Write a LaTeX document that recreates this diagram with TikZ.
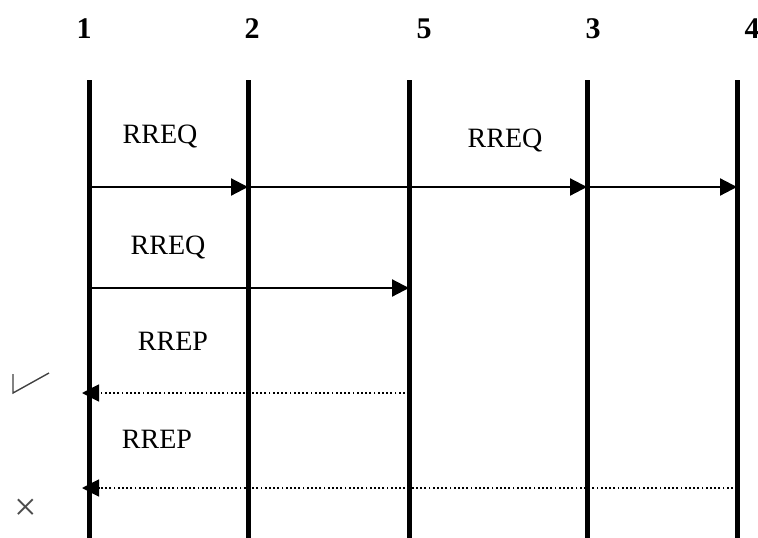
\documentclass[tikz,border=0pt]{standalone}
\usepackage{fontspec}
\setmainfont{Liberation Serif}
\usetikzlibrary{arrows.meta}
\begin{document}
\begin{tikzpicture}[x=1pt,y=-1pt,
  lifeline/.style={line width=5pt},
  msg/.style={line width=2.2pt,-{Triangle[length=17pt,width=17pt]}},
  reply/.style={line width=1.8pt,dash pattern=on 1.8pt off 2.4pt,-{Triangle[length=17pt,width=17pt]}},
  head/.style={font=\fontsize{30}{32}\selectfont\bfseries,anchor=base},
  lbl/.style={font=\fontsize{28}{30}\selectfont,anchor=base},
  tickmark/.style={draw=black!75,line width=1.4pt}]
\useasboundingbox (0,0) rectangle (758,538);
% headers
\node[head] (h1) at (84,38) {1};
\node[head] (h2) at (252,38) {2};
\node[head] (h5) at (424,38) {5};
\node[head] (h3) at (593,38) {3};
\node[head] (h4) at (752,38) {4};
% lifeline ends
\foreach \n/\x in {1/89,2/248,5/409,3/587,4/737}{
  \coordinate (t\n) at (\x,80);
  \coordinate (b\n) at (\x,538);
  \coordinate (a\n) at (\x,187);
  \coordinate (c\n) at (\x,288);
  \coordinate (d\n) at (\x,393);
  \coordinate (e\n) at (\x,488);
}
\foreach \n in {1,2,5,3,4} \draw[lifeline] (t\n) -- (b\n);
% messages
\draw[msg] (a1) -- (a2);
\draw[msg] (a2) -- (a3);
\draw[msg] (a3) -- (a4);
\draw[msg] (c1) -- (c5);
\draw[reply] (d5) -- ([xshift=-7pt]d1);
\draw[reply] (e4) -- ([xshift=-7pt]e1);
% labels
\node[lbl] (l1) at (160,143) {RREQ};
\node[lbl] (l2) at (505,147) {RREQ};
\node[lbl] (l3) at (168,254) {RREQ};
\node[lbl] (l4) at (173,350) {RREP};
\node[lbl] (l5) at (157,448) {RREP};
% marks
\draw[tickmark] (13,374) -- (13,393) -- (49,373);
\node[font=\fontsize{40}{42}\selectfont,text=black!70] (x) at (26,510) {×};
\end{tikzpicture}
\end{document}
